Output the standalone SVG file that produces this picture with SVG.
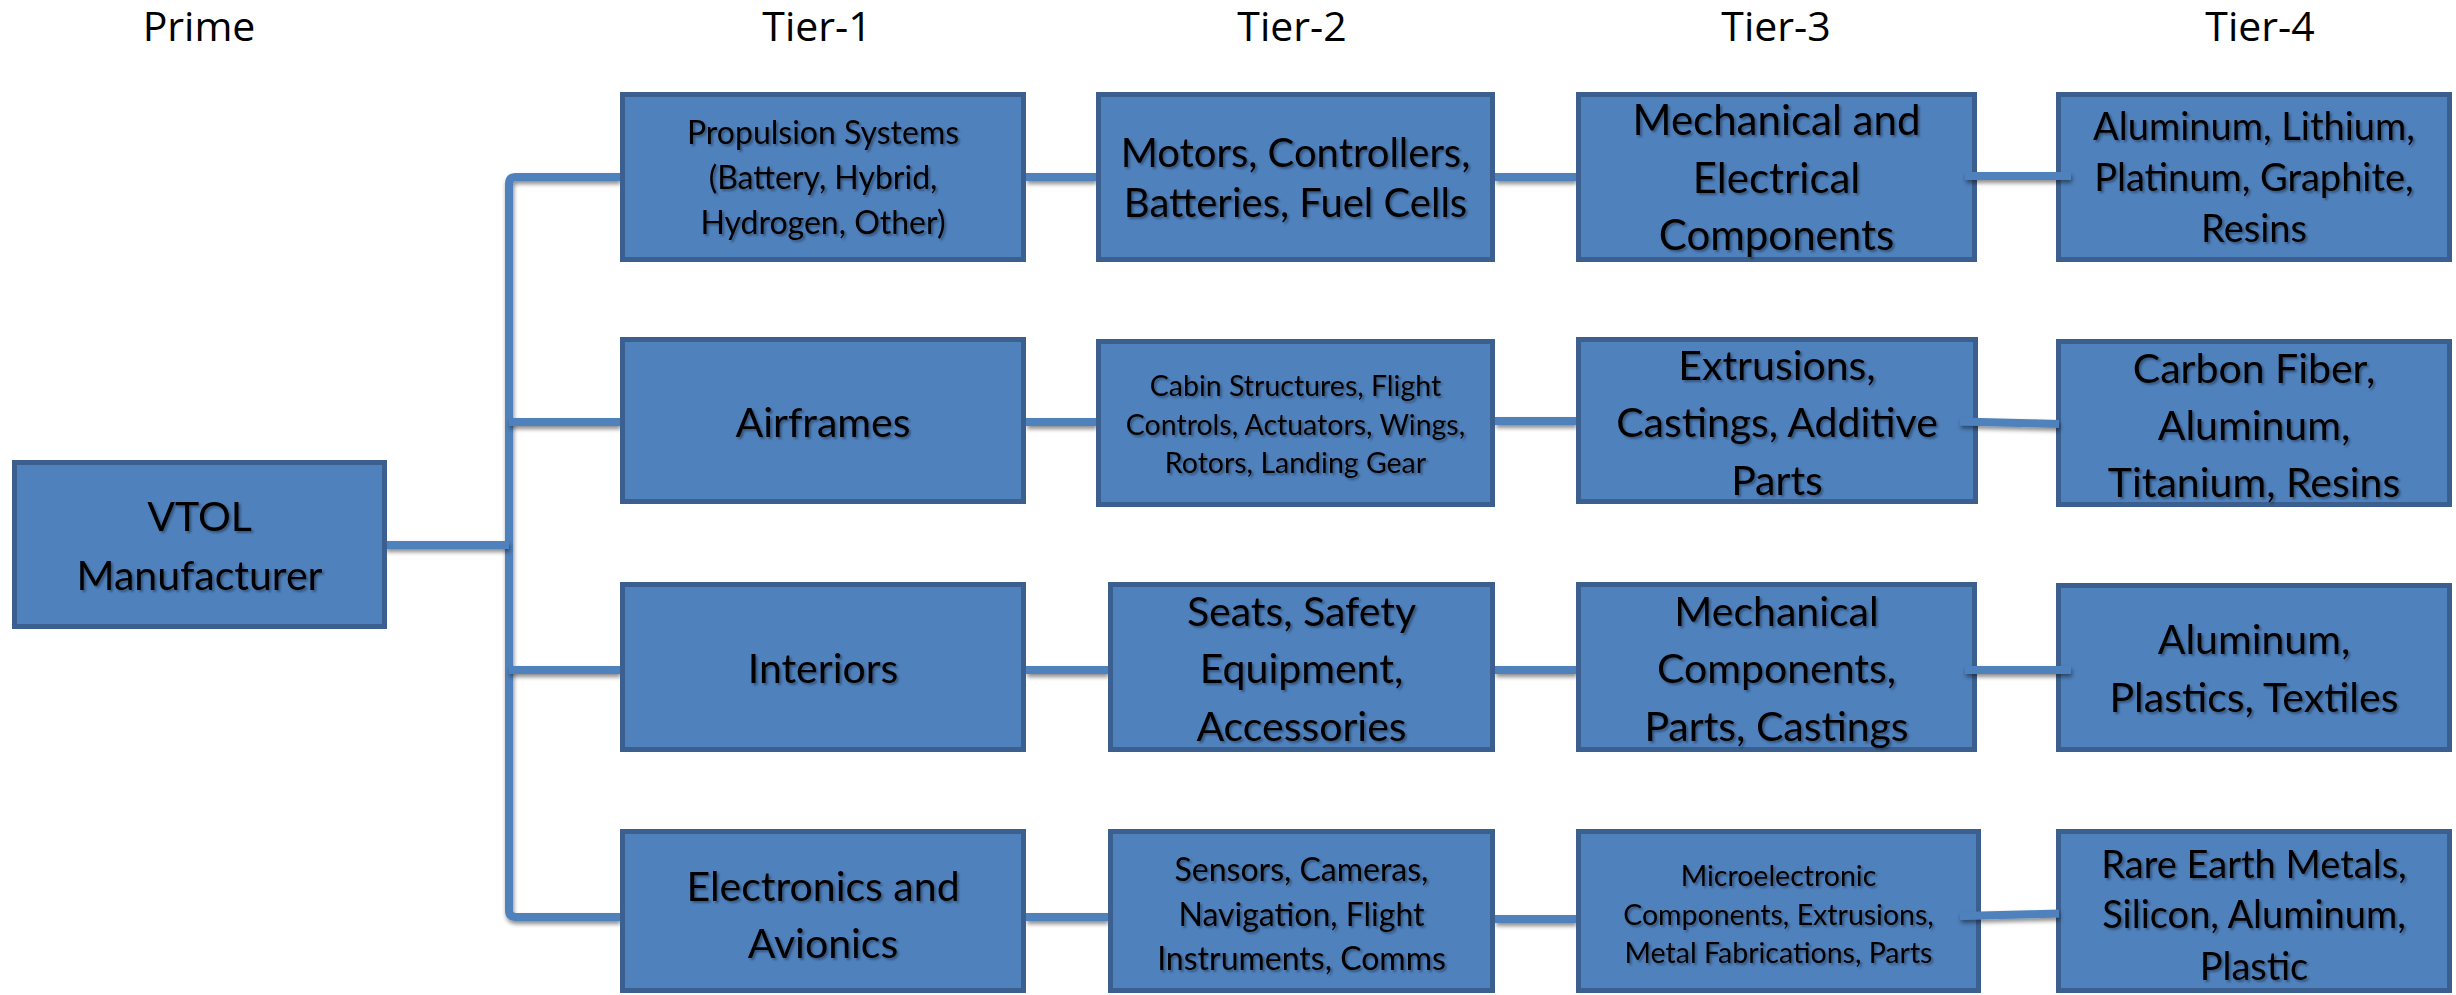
<svg xmlns="http://www.w3.org/2000/svg" width="2456" height="995" viewBox="0 0 2456 995">
<defs>
<filter id="tsh" x="-10%" y="-10%" width="120%" height="130%">
<feDropShadow dx="2" dy="2" stdDeviation="1.2" flood-color="#000" flood-opacity="0.35"/>
</filter>
<filter id="csh" filterUnits="userSpaceOnUse" x="0" y="0" width="2456" height="995">
<feDropShadow dx="1" dy="3" stdDeviation="2" flood-color="#000" flood-opacity="0.45"/>
</filter>
</defs>
<style>
.box{fill:#4F81BD;stroke:#3B5F8E;stroke-width:5}
.t{font-family:Lato,"Liberation Sans",sans-serif;fill:#000;text-anchor:middle;filter:url(#tsh)}
.h{font-family:"Open Sans","Liberation Sans",sans-serif;font-size:41px;fill:#000;text-anchor:middle}
.c{fill:none;stroke:#4F81BD;stroke-width:8;filter:url(#csh)}
</style>
<rect width="2456" height="995" fill="#fff"/>
<g id="headers">
<text class="h" x="199" y="41">Prime</text>
<text class="h" x="817" y="41">Tier-1</text>
<text class="h" x="1292" y="41">Tier-2</text>
<text class="h" x="1776" y="41">Tier-3</text>
<text class="h" x="2260" y="41">Tier-4</text>
</g>
<g id="connectors">
<path class="c" d="M620 177 H516 Q509 177 509 184 V910 Q509 917 516 917 H620"/>
<path class="c" d="M509 422 H620"/>
<path class="c" d="M509 670 H620"/>
<path class="c" d="M385 545 H509"/>
<path class="c" d="M1026 177 H1096"/>
<path class="c" d="M1026 422 H1096"/>
<path class="c" d="M1026 670 H1108"/>
<path class="c" d="M1026 917 H1108"/>
<path class="c" d="M1495 177 H1576"/>
<path class="c" d="M1495 421 H1576"/>
<path class="c" d="M1495 670 H1576"/>
<path class="c" d="M1495 919 H1576"/>
</g>
<g id="n-vtol"><rect class="box" x="14.5" y="462.5" width="370" height="164"/>
<text class="t" font-size="41"><tspan x="199.5" y="531">VTOL</tspan><tspan x="199.5" y="590">Manufacturer</tspan></text></g>
<g id="n-propulsion"><rect class="box" x="622.5" y="94.5" width="401" height="165"/>
<text class="t" font-size="32"><tspan x="823" y="144">Propulsion Systems</tspan><tspan x="823" y="189">(Battery, Hybrid,</tspan><tspan x="823" y="234">Hydrogen, Other)</tspan></text></g>
<g id="n-airframes"><rect class="box" x="622.5" y="339.5" width="401" height="162"/>
<text class="t" font-size="41"><tspan x="823" y="437">Airframes</tspan></text></g>
<g id="n-interiors"><rect class="box" x="622.5" y="584.5" width="401" height="165"/>
<text class="t" font-size="41"><tspan x="823" y="683">Interiors</tspan></text></g>
<g id="n-electronics"><rect class="box" x="622.5" y="831.5" width="401" height="159"/>
<text class="t" font-size="41"><tspan x="823" y="901">Electronics and</tspan><tspan x="823" y="958">Avionics</tspan></text></g>
<g id="n-motors"><rect class="box" x="1098.5" y="94.5" width="394" height="165"/>
<text class="t" font-size="40"><tspan x="1295.5" y="167">Motors, Controllers,</tspan><tspan x="1295.5" y="217">Batteries, Fuel Cells</tspan></text></g>
<g id="n-cabin"><rect class="box" x="1098.5" y="341.5" width="394" height="163"/>
<text class="t" font-size="28.5"><tspan x="1295.5" y="396">Cabin Structures, Flight</tspan><tspan x="1295.5" y="435">Controls, Actuators, Wings,</tspan><tspan x="1295.5" y="473">Rotors, Landing Gear</tspan></text></g>
<g id="n-seats"><rect class="box" x="1110.5" y="584.5" width="382" height="165"/>
<text class="t" font-size="41"><tspan x="1301.5" y="626">Seats, Safety</tspan><tspan x="1301.5" y="683">Equipment,</tspan><tspan x="1301.5" y="741">Accessories</tspan></text></g>
<g id="n-sensors"><rect class="box" x="1110.5" y="831.5" width="382" height="159"/>
<text class="t" font-size="32"><tspan x="1301.5" y="881">Sensors, Cameras,</tspan><tspan x="1301.5" y="926">Navigation, Flight</tspan><tspan x="1301.5" y="970">Instruments, Comms</tspan></text></g>
<g id="n-mech-elec"><rect class="box" x="1578.5" y="94.5" width="396" height="165"/>
<text class="t" font-size="42"><tspan x="1776.5" y="135">Mechanical and</tspan><tspan x="1776.5" y="193">Electrical</tspan><tspan x="1776.5" y="250">Components</tspan></text></g>
<g id="n-extrusions"><rect class="box" x="1578.5" y="339.5" width="397" height="162"/>
<text class="t" font-size="41"><tspan x="1777" y="380">Extrusions,</tspan><tspan x="1777" y="437">Castings, Additive</tspan><tspan x="1777" y="495">Parts</tspan></text></g>
<g id="n-mech-comp"><rect class="box" x="1578.5" y="584.5" width="396" height="165"/>
<text class="t" font-size="41"><tspan x="1776.5" y="626">Mechanical</tspan><tspan x="1776.5" y="683">Components,</tspan><tspan x="1776.5" y="741">Parts, Castings</tspan></text></g>
<g id="n-micro"><rect class="box" x="1578.5" y="831.5" width="400" height="159"/>
<text class="t" font-size="28.5"><tspan x="1778.5" y="886">Microelectronic</tspan><tspan x="1778.5" y="925">Components, Extrusions,</tspan><tspan x="1778.5" y="963">Metal Fabrications, Parts</tspan></text></g>
<g id="n-al-li"><rect class="box" x="2058.5" y="94.5" width="391" height="165"/>
<text class="t" font-size="38"><tspan x="2254" y="140">Aluminum, Lithium,</tspan><tspan x="2254" y="191">Platinum, Graphite,</tspan><tspan x="2254" y="242">Resins</tspan></text></g>
<g id="n-carbon"><rect class="box" x="2058.5" y="341.5" width="391" height="163"/>
<text class="t" font-size="41"><tspan x="2254" y="383">Carbon Fiber,</tspan><tspan x="2254" y="440">Aluminum,</tspan><tspan x="2254" y="497">Titanium, Resins</tspan></text></g>
<g id="n-al-pl"><rect class="box" x="2058.5" y="585.5" width="391" height="164"/>
<text class="t" font-size="41"><tspan x="2254" y="654">Aluminum,</tspan><tspan x="2254" y="712">Plastics, Textiles</tspan></text></g>
<g id="n-rare"><rect class="box" x="2058.5" y="831.5" width="391" height="159"/>
<text class="t" font-size="38"><tspan x="2254" y="878">Rare Earth Metals,</tspan><tspan x="2254" y="928">Silicon, Aluminum,</tspan><tspan x="2254" y="980">Plastic</tspan></text></g>
<g id="connectors-t3t4">
<path class="c" d="M1965 176 H2071"/>
<path class="c" d="M1960 421.5 L2059 424"/>
<path class="c" d="M1965 670 H2071"/>
<path class="c" d="M1960 916 L2059 913.5"/>
</g>
</svg>
